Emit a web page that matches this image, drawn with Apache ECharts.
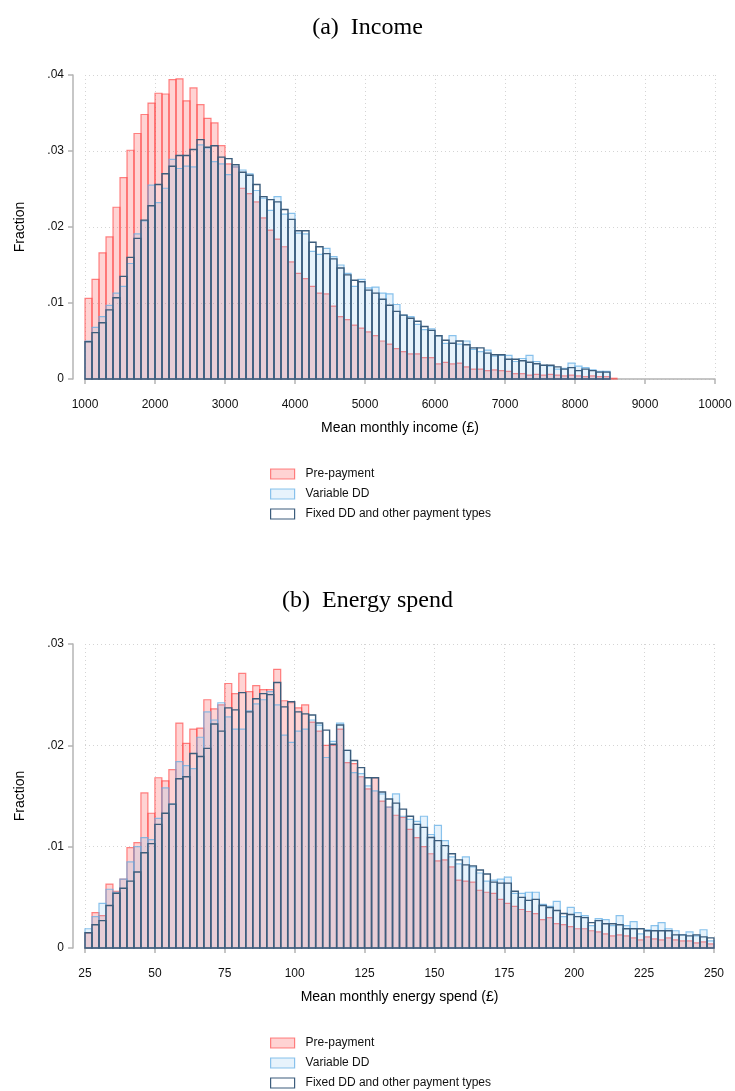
<!DOCTYPE html>
<html>
<head>
<meta charset="utf-8">
<script src="https://cdn.jsdelivr.net/npm/echarts@6/dist/echarts.min.js"></script>
<style>html,body{margin:0;padding:0;background:#fff}#c{width:735px;height:1091px}</style>
</head>
<body>
<div id="c"></div>
<script>
// ---------- DATA ----------
const seriesNames = ['Pre-payment', 'Variable DD', 'Fixed DD and other payment types'];

// (a) Income: bins of width 100 starting at 1000
const incomeStart = 1000, incomeWidth = 100;
const incomePrepay = [0.0106,0.0131,0.0166,0.0187,0.0226,0.0265,0.0301,0.0323,0.0348,0.0363,
0.0376,0.0375,0.0394,0.0395,0.0366,0.0383,0.0361,0.0343,0.0337,0.0307,
0.0283,0.0279,0.0251,0.0244,0.0233,0.0212,0.0196,0.0184,0.0174,0.0154,
0.0139,0.0132,0.0122,0.0113,0.0112,0.0096,0.0082,0.0078,0.0071,0.0067,
0.0062,0.0057,0.0050,0.0046,0.0040,0.0036,0.0033,0.0033,0.0028,0.0028,
0.0020,0.0022,0.0020,0.0021,0.0016,0.0013,0.0013,0.0011,0.0012,0.0011,
0.0010,0.0007,0.0007,0.0005,0.0006,0.0005,0.0006,0.0005,0.0004,0.0005,
0.0004,0.0003,0.0004,0.0003,0.0003,0.0001];
const incomeVariable = [0.0050,0.0068,0.0082,0.0097,0.0113,0.0122,0.0152,0.0191,0.0208,0.0255,
0.0232,0.0251,0.0289,0.0277,0.0280,0.0279,0.0308,0.0304,0.0286,0.0283,
0.0269,0.0279,0.0275,0.0270,0.0248,0.0238,0.0222,0.0240,0.0217,0.0218,
0.0192,0.0191,0.0168,0.0164,0.0172,0.0161,0.0150,0.0139,0.0122,0.0131,
0.0120,0.0121,0.0113,0.0112,0.0098,0.0084,0.0082,0.0072,0.0065,0.0066,
0.0057,0.0047,0.0057,0.0046,0.0050,0.0039,0.0036,0.0038,0.0030,0.0031,
0.0031,0.0023,0.0027,0.0031,0.0023,0.0018,0.0017,0.0013,0.0014,0.0021,
0.0017,0.0015,0.0012,0.0010,0.0010,0];
const incomeFixed = [0.0049,0.0061,0.0074,0.0091,0.0107,0.0135,0.0160,0.0185,0.0209,0.0228,
0.0256,0.0270,0.0280,0.0294,0.0294,0.0302,0.0315,0.0305,0.0307,0.0292,
0.0290,0.0282,0.0272,0.0268,0.0256,0.0240,0.0236,0.0233,0.0223,0.0210,
0.0195,0.0195,0.0180,0.0174,0.0165,0.0158,0.0146,0.0137,0.0130,0.0128,
0.0117,0.0113,0.0105,0.0097,0.0089,0.0084,0.0080,0.0076,0.0069,0.0064,
0.0057,0.0051,0.0047,0.0050,0.0045,0.0041,0.0041,0.0034,0.0032,0.0032,
0.0026,0.0026,0.0024,0.0022,0.0020,0.0018,0.0018,0.0016,0.0013,0.0015,
0.0011,0.0013,0.0011,0.0009,0.0009,0];

// (b) Energy spend: bins of width 2.5 starting at 25
const energyStart = 25, energyWidth = 2.5;
const energyPrepay = [0.0015,0.0035,0.0032,0.0063,0.0056,0.0068,0.0099,0.0104,0.0153,0.0133,
0.0168,0.0165,0.0176,0.0222,0.0202,0.0216,0.0217,0.0245,0.0236,0.0240,
0.0261,0.0251,0.0271,0.0253,0.0259,0.0255,0.0255,0.0275,0.0244,0.0242,
0.0237,0.0240,0.0223,0.0214,0.0200,0.0200,0.0216,0.0183,0.0182,0.0169,
0.0157,0.0168,0.0145,0.0139,0.0131,0.0129,0.0117,0.0109,0.0100,0.0093,
0.0086,0.0087,0.0080,0.0067,0.0066,0.0065,0.0057,0.0055,0.0054,0.0048,
0.0044,0.0041,0.0038,0.0036,0.0034,0.0028,0.0030,0.0024,0.0023,0.0021,
0.0019,0.0019,0.0017,0.0016,0.0014,0.0012,0.0013,0.0012,0.0010,0.0008,
0.0011,0.0009,0.0008,0.0010,0.0008,0.0007,0.0007,0.0005,0.0006,0.0004];
const energyVariable = [0.0019,0.0031,0.0044,0.0058,0.0055,0.0068,0.0085,0.0100,0.0109,0.0107,
0.0128,0.0158,0.0142,0.0184,0.0180,0.0177,0.0208,0.0233,0.0225,0.0242,
0.0228,0.0216,0.0216,0.0234,0.0241,0.0245,0.0253,0.0240,0.0210,0.0203,
0.0214,0.0216,0.0225,0.0220,0.0188,0.0204,0.0222,0.0195,0.0173,0.0172,
0.0160,0.0155,0.0152,0.0139,0.0152,0.0130,0.0127,0.0125,0.0130,0.0112,
0.0121,0.0106,0.0090,0.0083,0.0090,0.0080,0.0074,0.0066,0.0067,0.0068,
0.0070,0.0054,0.0054,0.0055,0.0055,0.0043,0.0041,0.0046,0.0031,0.0040,
0.0035,0.0032,0.0022,0.0029,0.0028,0.0022,0.0032,0.0022,0.0026,0.0014,
0.0018,0.0022,0.0025,0.0019,0.0017,0.0013,0.0016,0.0012,0.0018,0.0007];
const energyFixed = [0.0015,0.0023,0.0027,0.0042,0.0054,0.0059,0.0066,0.0075,0.0094,0.0103,
0.0122,0.0133,0.0142,0.0167,0.0169,0.0192,0.0189,0.0197,0.0221,0.0214,
0.0237,0.0235,0.0252,0.0233,0.0246,0.0251,0.0250,0.0262,0.0238,0.0243,
0.0233,0.0231,0.0230,0.0222,0.0215,0.0201,0.0220,0.0195,0.0185,0.0178,
0.0168,0.0168,0.0154,0.0147,0.0143,0.0137,0.0130,0.0122,0.0119,0.0109,
0.0106,0.0101,0.0093,0.0087,0.0082,0.0081,0.0077,0.0073,0.0065,0.0064,
0.0064,0.0056,0.0050,0.0047,0.0048,0.0042,0.0040,0.0037,0.0034,0.0033,
0.0031,0.0030,0.0025,0.0027,0.0024,0.0024,0.0023,0.0019,0.0019,0.0019,
0.0017,0.0017,0.0017,0.0017,0.0013,0.0013,0.0012,0.0013,0.0011,0.0010];

const incomeTicks = {min: 1000, max: 10000, interval: 1000};
const energyTicks = {min: 25, max: 250, interval: 25};
const incomeY = {min: 0, max: 0.04, interval: 0.01};
const energyY = {min: 0, max: 0.03, interval: 0.01};

// ---------- STYLE ----------
const styles = [
  {fill: 'rgba(255,70,70,0.24)', stroke: 'rgba(255,60,60,0.62)', lw: 1.2},
  {fill: 'rgba(110,185,235,0.17)', stroke: 'rgba(100,175,230,0.75)', lw: 1.2},
  {fill: 'rgba(0,0,0,0)', stroke: '#3c5d7c', lw: 1.4}
];
const SANS = '"Liberation Sans", Arial, sans-serif';
const SERIF = '"Liberation Serif", "DejaVu Serif", serif';

function binData(start, width, vals) {
  return vals.map((v, i) => [start + i * width, v]);
}
function histSeries(name, idx, gridIdx, width, data, st) {
  return {
    type: 'custom', name: name, xAxisIndex: gridIdx, yAxisIndex: gridIdx,
    itemStyle: {color: st.fill, borderColor: st.stroke, borderWidth: 1},
    encode: {x: 0, y: 1},
    data: data,
    z: 2 + idx,
    renderItem: function (params, api) {
      const x0 = api.value(0), v = api.value(1);
      if (!(v > 0)) return null;
      const p0 = api.coord([x0, v]);
      const p1 = api.coord([x0 + width, 0]);
      return {
        type: 'rect',
        shape: {x: p0[0], y: p0[1], width: p1[0] - p0[0], height: p1[1] - p0[1]},
        style: {fill: st.fill, stroke: st.stroke, lineWidth: st.lw}
      };
    }
  };
}
const yFmt = v => v === 0 ? '0' : v.toFixed(2).replace(/^0/, '');
const xFmt = v => String(v);

function xAxis(gridIdx, t, name) {
  return {
    type: 'value', gridIndex: gridIdx, min: t.min, max: t.max, interval: t.interval,
    offset: 12, name: name, nameLocation: 'middle', nameGap: 30,
    nameTextStyle: {fontFamily: SANS, fontSize: 14, color: '#000'},
    axisLine: {show: true, lineStyle: {color: '#b4b4b4', width: 1.5}},
    axisTick: {show: true, length: 5, lineStyle: {color: '#b4b4b4', width: 1.5}},
    axisLabel: {fontFamily: SANS, fontSize: 12, color: '#111', margin: 8, formatter: xFmt},
    splitLine: {show: true, lineStyle: {color: '#d4d4d4', type: [1, 3], width: 1}}
  };
}
function yAxis(gridIdx, t) {
  return {
    type: 'value', gridIndex: gridIdx, min: t.min, max: t.max, interval: t.interval,
    offset: 12, name: 'Fraction', nameLocation: 'middle', nameGap: 46,
    nameTextStyle: {fontFamily: SANS, fontSize: 14, color: '#000'},
    axisLine: {show: true, lineStyle: {color: '#b4b4b4', width: 1.5}},
    axisTick: {show: true, length: 5, lineStyle: {color: '#b4b4b4', width: 1.5}},
    axisLabel: {fontFamily: SANS, fontSize: 12, color: '#111', margin: 9, formatter: yFmt},
    splitLine: {show: true, lineStyle: {color: '#d4d4d4', type: [1, 3], width: 1}}
  };
}
function legend(top) {
  return {
    orient: 'vertical', left: 270, top: top, height: 90, padding: 0,
    itemWidth: 24, itemHeight: 10, itemGap: 8,
    selectedMode: false,
    textStyle: {fontFamily: SANS, fontSize: 12, color: '#111', padding: [0, 0, 0, 6]},
    data: seriesNames.map((n, i) => ({name: n, icon: 'rect',
      itemStyle: {color: styles[i].fill, borderColor: styles[i].stroke, borderWidth: 1.2}}))
  };
}

const incomeVals = [incomePrepay, incomeVariable, incomeFixed];
const energyVals = [energyPrepay, energyVariable, energyFixed];
const series = [];
incomeVals.forEach((vals, i) => series.push(histSeries(seriesNames[i], i, 0, incomeWidth, binData(incomeStart, incomeWidth, vals), styles[i])));
energyVals.forEach((vals, i) => series.push(histSeries(seriesNames[i], i, 1, energyWidth, binData(energyStart, energyWidth, vals), styles[i])));

const chart = echarts.init(document.getElementById('c'), null, {renderer: 'canvas'});
chart.setOption({
  animation: false,
  backgroundColor: '#fff',
  title: [
    {text: '(a)  Income', left: 'center', top: 11, textStyle: {fontFamily: SERIF, fontSize: 24, fontWeight: 'normal', color: '#000'}},
    {text: '(b)  Energy spend', left: 'center', top: 584, textStyle: {fontFamily: SERIF, fontSize: 24, fontWeight: 'normal', color: '#000'}}
  ],
  grid: [
    {left: 85, right: 20, top: 75, height: 304},
    {left: 85, right: 21, top: 644, height: 304}
  ],
  xAxis: [xAxis(0, incomeTicks, 'Mean monthly income (£)'), xAxis(1, energyTicks, 'Mean monthly energy spend (£)')],
  yAxis: [yAxis(0, incomeY), yAxis(1, energyY)],
  legend: [legend(468), legend(1037)],
  series: series
});
</script>
</body>
</html>
